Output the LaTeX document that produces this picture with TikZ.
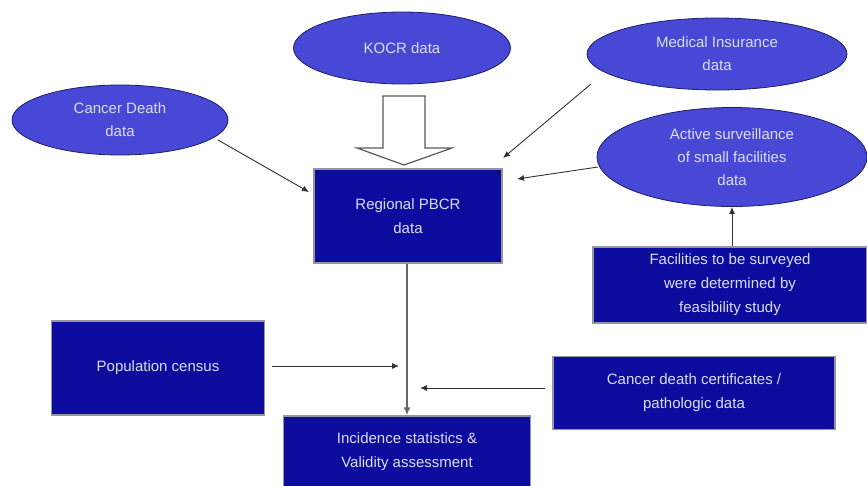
\documentclass[tikz,border=0pt]{standalone}
\usepackage{fontspec}
\setmainfont{Liberation Sans}
\usetikzlibrary{shapes.geometric,arrows.meta}
\definecolor{ellfill}{RGB}{72,72,214}
\definecolor{ellline}{RGB}{30,30,100}
\definecolor{boxfill}{RGB}{12,12,158}
\definecolor{boxline}{RGB}{150,150,160}
\definecolor{txt}{RGB}{220,220,240}
\definecolor{conn}{RGB}{50,50,50}
\tikzset{
  ell/.style={ellipse, draw=ellline, line width=0.8pt, fill=ellfill, text=txt, align=center, inner sep=0pt, font=\fontsize{15}{23}\selectfont},
  bx/.style={rectangle, draw=boxline, line width=1.5pt, fill=boxfill, text=txt, align=center, inner sep=0pt, font=\fontsize{15}{24}\selectfont},
  conn/.style={draw=conn, line width=0.9pt, -{Latex[length=7pt,width=6pt]}},
  mainline/.style={draw=gray!80!black, line width=2pt, -{Latex[length=8pt,width=7pt]}}
}
\begin{document}
\begin{tikzpicture}[x=1pt,y=-1pt]
\useasboundingbox (0,0) rectangle (867,485);
% ellipses
\node[ell, minimum width=217pt, minimum height=72pt] (kocr) at (402,48) {KOCR data};
\node[ell, minimum width=260pt, minimum height=72pt] (med) at (717,54) {Medical Insurance\\data};
\node[ell, minimum width=270pt, minimum height=99pt] (act) at (732,157) {Active surveillance\\of small facilities\\data};
\node[ell, minimum width=216pt, minimum height=70pt] (cdd) at (120,120) {Cancer Death\\data};
% boxes
\node[bx, minimum width=188pt, minimum height=94pt] (reg) at (408,216) {Regional PBCR\\data};
\node[bx, minimum width=274pt, minimum height=76pt] (fac) at (730,285) {Facilities to be surveyed\\were determined by\\feasibility study};
\node[bx, minimum width=213pt, minimum height=94pt] (pop) at (158,368) {Population census};
\node[bx, minimum width=282pt, minimum height=73pt] (cert) at (694,393) {Cancer death certificates /\\pathologic data};
\node[bx, minimum width=247pt, minimum height=72pt] (inc) at (407,452) {Incidence statistics \&\\Validity assessment};
% hollow arrow from KOCR to Regional
\draw[draw=gray!70!black, line width=1.2pt, fill=white]
  (383,96) -- (425,96) -- (425,148) -- (452,148) -- (404,165) -- (357,148) -- (383,148) -- cycle;
% connector end points
\coordinate (popstart) at (272,366);
\coordinate (popend) at (399,366);
\coordinate (certstart) at (545,388);
\coordinate (certend) at (420,388);
\coordinate (cddstart) at (218,140);
\coordinate (cddend) at (309,192);
\coordinate (medstart) at (591,84);
\coordinate (medend) at (503,158);
\coordinate (actstart) at (598,167);
\coordinate (actend) at (517,179);
% connectors
\draw[mainline] (reg.south -| inc.north) -- (inc.north);
\draw[conn] (popstart) -- (popend);
\draw[conn] (certstart) -- (certend);
\draw[conn] (cddstart) -- (cddend);
\draw[conn] (medstart) -- (medend);
\draw[conn] (actstart) -- (actend);
\draw[conn] (act.south |- fac.north) -- (act.south);
\end{tikzpicture}
\end{document}
